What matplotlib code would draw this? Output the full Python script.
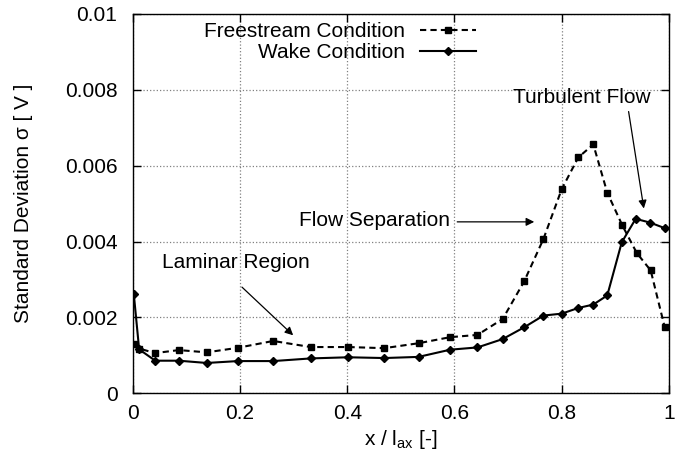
import numpy as np
import matplotlib
matplotlib.use("Agg")
import matplotlib.pyplot as plt
from matplotlib.ticker import FormatStrFormatter

# freestream condition
x_free = [0.002, 0.012, 0.042, 0.086, 0.138, 0.196, 0.262, 0.332, 0.402, 0.469,
          0.533, 0.592, 0.643, 0.69, 0.73, 0.766, 0.80, 0.831, 0.859, 0.885,
          0.913, 0.940, 0.966, 0.992]
y_free = [0.0013, 0.00118, 0.00106, 0.00114, 0.00108, 0.0012, 0.00138, 0.00122, 0.00122, 0.00119,
          0.00132, 0.00148, 0.00154, 0.00196, 0.00295, 0.00407, 0.00538, 0.00622, 0.00656, 0.00529,
          0.00443, 0.0037, 0.00324, 0.00175]

# wake condition
x_wake = [0.002, 0.012, 0.042, 0.086, 0.138, 0.196, 0.262, 0.332, 0.402, 0.469,
          0.533, 0.592, 0.643, 0.69, 0.73, 0.766, 0.80, 0.831, 0.859, 0.885,
          0.912, 0.938, 0.965, 0.993]
y_wake = [0.00262, 0.00116, 0.00086, 0.00086, 0.0008, 0.00085, 0.00085, 0.00092, 0.00095, 0.00093,
          0.00096, 0.00115, 0.00121, 0.00143, 0.00174, 0.00205, 0.0021, 0.00225, 0.00234, 0.00258,
          0.00398, 0.0046, 0.0045, 0.00435]

x_ticks = [0, 0.2, 0.4, 0.6, 0.8, 1.0]
y_ticks = [0, 0.002, 0.004, 0.006, 0.008, 0.01]

plt.rcParams['font.family'] = ['Liberation Sans', 'DejaVu Sans']
plt.rcParams['font.size'] = 15

fig = plt.figure(figsize=(6.75, 4.63), dpi=100)
ax = fig.add_axes([0.1966, 0.1505, 0.7944, 0.8193])

ax.plot(x_free, y_free, linestyle=(0, (3, 2)), color='black', linewidth=1.5,
        marker='s', markersize=5, label='Freestream Condition')
ax.plot(x_wake, y_wake, linestyle='-', color='black', linewidth=1.5,
        marker='D', markersize=4.5, label='Wake Condition')

ax.set_xlim(0, 1)
ax.set_ylim(0, 0.01)
ax.set_xticks(x_ticks)
ax.set_yticks(y_ticks)
ax.xaxis.set_major_formatter(FormatStrFormatter('%g'))
ax.yaxis.set_major_formatter(FormatStrFormatter('%g'))
ax.tick_params(direction='in', top=True, right=True, length=6, width=1, pad=8)
ax.tick_params(axis='y', pad=11)
ax.grid(True, linestyle=':', color='gray', linewidth=0.9)
for s in ax.spines.values():
    s.set_linewidth(1.0)

ax.set_xlabel(r'x / $\mathregular{l_{ax}}$ [-]', labelpad=3)
ax.set_ylabel('Standard Deviation σ [ V ]', labelpad=23)

ax.legend(loc='upper right', bbox_to_anchor=(0.656, 1.0), frameon=False,
          markerfirst=False, handlelength=2.7, handletextpad=0.7,
          borderaxespad=0.0, labelspacing=0.1, markerscale=0.8)

arrow = dict(arrowstyle='-|>', color='black', linewidth=0.9, mutation_scale=12)
ax.annotate('', xy=(0.303, 0.00148), xytext=(0.200, 0.00285), arrowprops=arrow)
ax.text(0.193, 0.00345, 'Laminar Region', ha='center', va='center')
ax.annotate('', xy=(0.754, 0.00452), xytext=(0.6, 0.00452), arrowprops=arrow)
ax.text(0.592, 0.00456, 'Flow Separation', ha='right', va='center')
ax.annotate('', xy=(0.954, 0.0048), xytext=(0.924, 0.0075), arrowprops=arrow)
ax.text(0.838, 0.00781, 'Turbulent Flow', ha='center', va='center')

fig.savefig('out.png', dpi=100)
